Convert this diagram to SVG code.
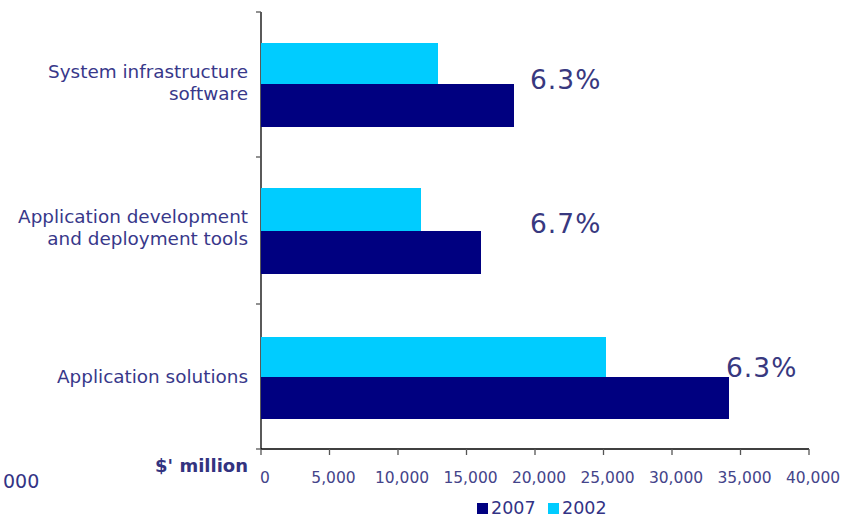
<svg xmlns="http://www.w3.org/2000/svg" width="856" height="518" viewBox="0 0 856 518">
<style>
.cat{font-family:"DejaVu Sans",Verdana,sans-serif;font-size:18.4px;fill:#38388a;text-anchor:end}
.tick{font-family:"DejaVu Sans",Verdana,sans-serif;font-size:15.5px;fill:#44448a;text-anchor:middle}
.pct{font-family:"DejaVu Sans",Verdana,sans-serif;font-size:26.5px;fill:#38387f;letter-spacing:1px}
.leg{font-family:"DejaVu Sans",Verdana,sans-serif;font-size:17.5px;fill:#333385}
.b07{fill:#000080}
.b02{fill:#00ccff}
.ax{stroke:#000;stroke-width:1.3;fill:none}
.tk{stroke:#555;stroke-width:1.3}
</style>
<rect width="856" height="518" fill="#fff"/>
<g id="axes">
<line class="ax" x1="261" y1="12" x2="261" y2="449"/>
<line class="ax" x1="261" y1="449" x2="809" y2="449"/>
<line class="tk" x1="256" y1="12" x2="261" y2="12"/>
<line class="tk" x1="256" y1="157" x2="261" y2="157"/>
<line class="tk" x1="256" y1="304" x2="261" y2="304"/>
<line class="tk" x1="256" y1="449" x2="261" y2="449"/>
<line class="tk" x1="261" y1="449" x2="261" y2="455"/>
<line class="tk" x1="329.5" y1="449" x2="329.5" y2="455"/>
<line class="tk" x1="398" y1="449" x2="398" y2="455"/>
<line class="tk" x1="466.5" y1="449" x2="466.5" y2="455"/>
<line class="tk" x1="535" y1="449" x2="535" y2="455"/>
<line class="tk" x1="603.5" y1="449" x2="603.5" y2="455"/>
<line class="tk" x1="672" y1="449" x2="672" y2="455"/>
<line class="tk" x1="740.5" y1="449" x2="740.5" y2="455"/>
<line class="tk" x1="809" y1="449" x2="809" y2="455"/>
<text class="tick" x="265" y="483">0</text>
<text class="tick" x="333.5" y="483">5,000</text>
<text class="tick" x="402" y="483">10,000</text>
<text class="tick" x="470.5" y="483">15,000</text>
<text class="tick" x="539" y="483">20,000</text>
<text class="tick" x="607.5" y="483">25,000</text>
<text class="tick" x="676" y="483">30,000</text>
<text class="tick" x="744.5" y="483">35,000</text>
<text class="tick" x="813" y="483">40,000</text>
<text x="248" y="472" text-anchor="end" style="font-family:'DejaVu Sans',Verdana,sans-serif;font-size:18px;font-weight:bold;fill:#333380">$' million</text>
<text x="3" y="488" style="font-family:'DejaVu Sans',Verdana,sans-serif;font-size:19px;fill:#333385">000</text>
</g>
<g id="system-infrastructure">
<rect class="b02" x="261" y="43" width="177" height="41"/>
<rect class="b07" x="261" y="84" width="253" height="43"/>
<text class="cat" x="248" y="78">System infrastructure</text>
<text class="cat" x="248" y="100">software</text>
<text class="pct" x="530" y="89">6.3%</text>
</g>
<g id="app-dev-tools">
<rect class="b02" x="261" y="188" width="160" height="43"/>
<rect class="b07" x="261" y="231" width="220" height="43"/>
<text class="cat" x="248" y="223">Application development</text>
<text class="cat" x="248" y="245">and deployment tools</text>
<text class="pct" x="530" y="233">6.7%</text>
</g>
<g id="app-solutions">
<rect class="b02" x="261" y="337" width="345" height="40"/>
<rect class="b07" x="261" y="377" width="468" height="42"/>
<text class="cat" x="248" y="383">Application solutions</text>
<text class="pct" x="726" y="377">6.3%</text>
</g>
<g id="legend">
<rect class="b07" x="477" y="503" width="11" height="11"/>
<text class="leg" x="491" y="514">2007</text>
<rect class="b02" x="548" y="503" width="11" height="11"/>
<text class="leg" x="562" y="514">2002</text>
</g>
<g id="connectors"></g>
</svg>
